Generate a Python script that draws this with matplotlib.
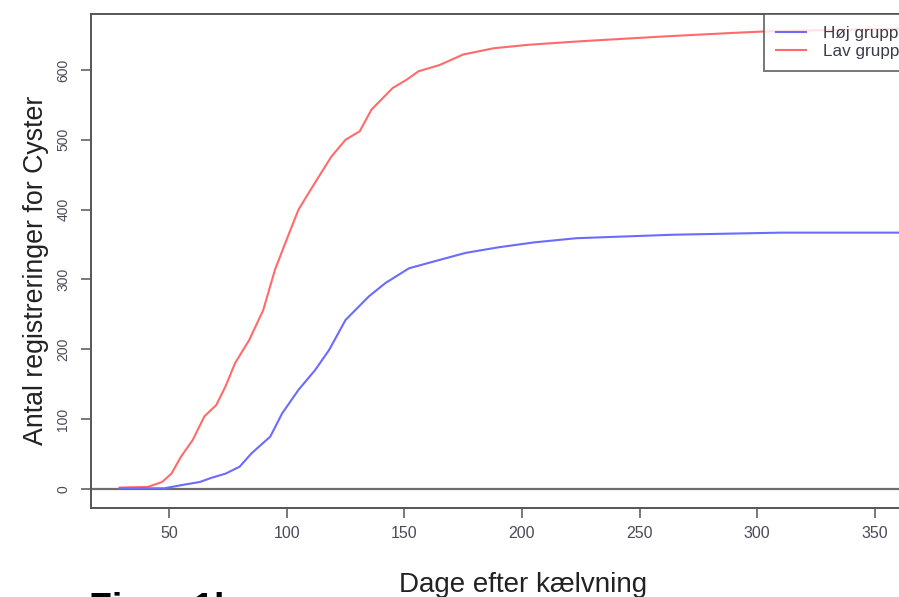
import numpy as np
import matplotlib
matplotlib.use("Agg")
import matplotlib.pyplot as plt

plt.rcParams["font.family"] = ["Liberation Sans", "DejaVu Sans"]

# aflaest fra figuren: dage efter kaelvning og kumulativt antal registreringer
dage_lav = [29, 41, 47, 51, 55, 60, 65, 70, 74, 78, 84, 90, 95, 101, 105, 111,
            119, 125, 131, 136, 145, 151, 156, 165, 175, 188, 203, 225, 261,
            290, 303, 330, 360]
lav = [2, 3, 10, 22, 46, 70, 104, 120, 147, 180, 213, 256, 314, 366, 400, 433,
       476, 500, 512, 543, 574, 586, 598, 607, 622, 631, 636, 641, 648,
       653, 655, 657, 659]

dage_hoj = [29, 48, 56, 63, 68, 74, 80, 85, 93, 98, 105, 112, 118, 125, 135,
            142, 152, 165, 176, 190, 205, 223, 264, 310, 360]
hoj = [1, 1, 6, 10, 16, 22, 32, 51, 75, 108, 142, 170, 199, 242, 276,
       295, 316, 328, 338, 346, 353, 359, 364, 367, 367]

xticks = [50, 100, 150, 200, 250, 300, 350]
yticks = [0, 100, 200, 300, 400, 500, 600]

W, H = 899, 597
fig = plt.figure(figsize=(W / 100, H / 100), dpi=100)

# aksen fortsaetter ud over hoejre kant (beskaaret billede)
left, right, top, bottom = 91, 929, 14, 508
ax = fig.add_axes([left / W, 1 - bottom / H, (right - left) / W, (bottom - top) / H])

spine_col = "#555555"
ax.axhline(0, color="#6e6e6e", lw=1.6, zorder=1)
ax.plot(dage_lav, lav, color="#ff6b6b", lw=1.5, label="Lav gruppe", zorder=2)
ax.plot(dage_hoj, hoj, color="#6b6bff", lw=1.5, label="Høj gruppe", zorder=3)

ax.set_xlim(16.8, 373)
ax.set_ylim(-27.2, 680)
ax.set_xticks(xticks)
ax.set_yticks(yticks)

for s in ax.spines.values():
    s.set_color(spine_col)
    s.set_linewidth(1.4)

ax.tick_params(axis="both", direction="out", length=7, width=1.1, color=spine_col,
               labelcolor="#4a4a58")
ax.tick_params(axis="x", labelsize=11.5, pad=6)
ax.tick_params(axis="y", labelsize=10, pad=8)
for lab in ax.get_yticklabels():
    lab.set_rotation(90)
    lab.set_va("center")

# legenden: Høj foerst, saa Lav
h, l = ax.get_legend_handles_labels()
leg = ax.legend(h[::-1], l[::-1], loc="upper left",
                bbox_to_anchor=((764 - left) / (right - left), 1.0),
                borderaxespad=0, fontsize=12.3, frameon=True, fancybox=False,
                handlelength=1.8, handletextpad=1.0, labelspacing=0.22,
                borderpad=0.68)
leg.get_frame().set_edgecolor(spine_col)
leg.get_frame().set_linewidth(1.4)
for t in leg.get_texts():
    t.set_color("#3c3c46")

fig.text(523 / W, 1 - 592 / H, "Dage efter kælvning", fontsize=20,
         ha="center", va="baseline", color="#222222")
fig.text(36 / W, 1 - 270 / H, "Antal registreringer for Cyster", fontsize=19.3,
         rotation=90, ha="center", va="center", color="#222222")
fig.text(89 / W, 1 - 620 / H, "Figur 1b", fontsize=27, fontweight="bold",
         ha="left", va="baseline", color="black")

fig.savefig("out.png", dpi=100)
